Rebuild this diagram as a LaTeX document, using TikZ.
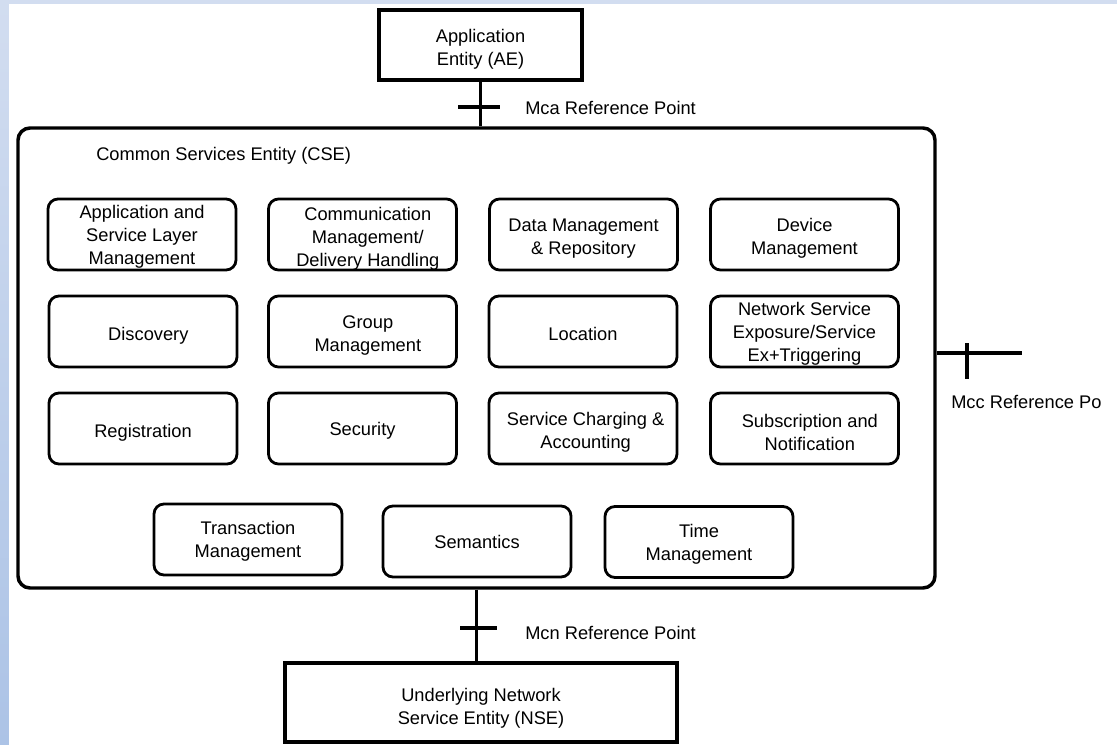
\documentclass[tikz,border=0pt]{standalone}
\usepackage{fontspec}
\setmainfont{Liberation Sans}
\begin{document}
\begin{tikzpicture}[x=0.75pt,y=-0.75pt,
  every node/.style={font=\fontsize{13.7}{17.3}\selectfont, align=center, inner sep=0pt},
  plainbox/.style={draw, line width=2.3pt, rectangle},
  svc/.style={draw, line width=2.1pt, rounded corners=7.5pt, minimum width=141pt, minimum height=53.25pt},
  conn/.style={line width=2.3pt},
  lbl/.style={anchor=west}]
\useasboundingbox (0,0) rectangle (1117,744);
\shade[top color={rgb,255:red,210;green,221;blue,240}, bottom color={rgb,255:red,172;green,195;blue,230}] (0,0) rectangle (1117,744);
\fill[white] (9,4) rectangle (1120,750);

% main boxes
\node[plainbox, minimum width=152.25pt, minimum height=52.5pt] (AE) at (480.5,45) {};
\node (AEt) at ([yshift=-3pt]AE.center) {Application\\Entity (AE)};
\node[draw, line width=2.6pt, rounded corners=9pt, minimum width=687.75pt, minimum height=345pt] (CSE) at (476.5,358) {};
\node[plainbox, minimum width=294pt, minimum height=59.25pt] (NSE) at (481,702.5) {};
\node (NSEt) at ([yshift=-4.5pt]NSE.center) {Underlying Network\\Service Entity (NSE)};
\node[lbl] (cselbl) at (96,156) {Common Services Entity (CSE)};

% service boxes
\node[svc] (asl) at (142,234.5) {};
\node[svc] (cmdh) at (362.5,234.5) {};
\node[svc] (dmr) at (583.5,234.5) {};
\node[svc] (dm) at (804.5,234.5) {};
\node[svc] (disc) at (143,331.5) {};
\node[svc] (grp) at (362.5,331.5) {};
\node[svc] (loc) at (583,331.5) {};
\node[svc] (nse) at (804.5,331.5) {};
\node[svc] (reg) at (143,428.5) {};
\node[svc] (sec) at (362.5,428.5) {};
\node[svc] (sca) at (583,428.5) {};
\node[svc] (sub) at (804.5,428.5) {};
\node[svc] (trm) at (248,539.5) {};
\node[svc] (sem) at (477,541.5) {};
\node[svc] (tim) at (699,542) {};

\node (aslt) at ([yshift=-1.5pt]asl.center) {Application and\\Service Layer\\Management};
\node (cmdht) at ([xshift=4pt,yshift=-3pt]cmdh.center) {Communication\\Management/\\Delivery Handling};
\node (dmrt) at ([yshift=-3pt]dmr.center) {Data Management\\\& Repository};
\node (dmt) at ([yshift=-3pt]dm.center) {Device\\Management};
\node (disct) at ([xshift=4pt,yshift=-3pt]disc.center) {Discovery};
\node (grpt) at ([xshift=4pt,yshift=-3pt]grp.center) {Group\\Management};
\node (loct) at ([yshift=-2pt]loc.center) {Location};
\node (nset) at ([yshift=-1.5pt]nse.center) {Network Service\\Exposure/Service\\Ex+Triggering};
\node (regt) at ([yshift=-3pt]reg.center) {Registration};
\node (sect) at ([yshift=-1.5pt]sec.center) {Security};
\node (scat) at ([xshift=2pt,yshift=-3pt]sca.center) {Service Charging \&\\Accounting};
\node (subt) at ([xshift=4pt,yshift=-3pt]sub.center) {Subscription and\\Notification};
\node (trmt) at ([yshift=-1.5pt]trm.center) {Transaction\\Management};
\node (semt) at ([yshift=-0.5pt]sem.center) {Semantics};
\node (timt) at ([yshift=-1.5pt]tim.center) {Time\\Management};

% Mca
\draw[conn] (AE.south) -- (AE.south |- CSE.north);
\coordinate (mcaL) at (458,107);
\coordinate (mcaR) at (500,107);
\draw[conn] (mcaL) -- (mcaR);
\node[lbl] (mcalbl) at (525,108) {Mca Reference Point};

% Mcc
\coordinate (mccend) at (1022,353);
\draw[conn] (CSE.east |- mccend) -- (mccend);
\coordinate (mccT) at (967,343);
\coordinate (mccB) at (967,379);
\draw[conn] (mccT) -- (mccB);
\node[lbl] (mcclbl) at (951,402) {Mcc Reference Po};

% Mcn
\draw[conn] (CSE.south) -- (CSE.south |- NSE.north);
\coordinate (mcnL) at (460,628);
\coordinate (mcnR) at (497,628);
\draw[conn] (mcnL) -- (mcnR);
\node[lbl] (mcnlbl) at (525,633) {Mcn Reference Point};
\end{tikzpicture}
\end{document}
